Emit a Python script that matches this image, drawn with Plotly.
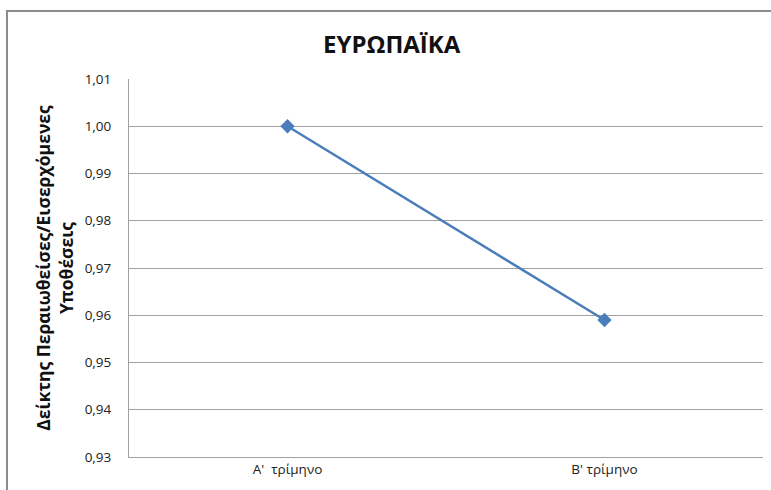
import plotly.graph_objects as go

categories = ["Α'  τρίμηνο", "Β' τρίμηνο"]
values = [1.00, 0.959]
y_ticks = [0.93, 0.94, 0.95, 0.96, 0.97, 0.98, 0.99, 1.00, 1.01]
title_text = "ΕΥΡΩΠΑΪΚΑ"
y_title = "Δείκτης Περαιωθείσες/Εισερχόμενες<br>Υποθέσεις"

font_family = "Open Sans, Liberation Sans, DejaVu Sans, sans-serif"
blue = "#4A7EBB"

fig = go.Figure()
fig.add_trace(go.Scatter(
    x=categories, y=values, mode="lines+markers",
    line=dict(color=blue, width=2.5),
    marker=dict(symbol="diamond", size=11, color=blue),
    showlegend=False,
))

L, R, T, B = 129, 8, 79, 33
W, H = 771, 490
pw, ph = W - L - R, H - T - B

fig.update_layout(
    width=W, height=H,
    margin=dict(l=L, r=R, t=T, b=B, autoexpand=False),
    paper_bgcolor="white", plot_bgcolor="white",
    separators=",.",
    font=dict(family=font_family, size=13, color="#222"),
    title=dict(text="<b>" + title_text + "</b>", x=0.508, xanchor="center",
               y=1 - 45 / H, yanchor="middle",
               font=dict(size=24, color="#111", family=font_family)),
    xaxis=dict(
        type="category", range=[-0.5, 1.5],
        showgrid=False, zeroline=False,
        showline=True, linecolor="#A0A0A0", linewidth=1,
        ticks="", tickfont=dict(size=13.5, color="#222"),
        fixedrange=True,
    ),
    yaxis=dict(
        range=[0.93, 1.01], tickvals=y_ticks, tickformat=".2f",
        showgrid=True, gridcolor="#A0A0A0", gridwidth=1,
        zeroline=False,
        showline=True, linecolor="#A0A0A0", linewidth=1,
        ticks="", ticklabelstandoff=14,
        tickfont=dict(size=13.5, color="#222"),
        title=dict(text="<b>" + y_title + "</b>", standoff=6,
                   font=dict(size=17.5, color="#111", family=font_family)),
        fixedrange=True,
    ),
)

# outer chart frame
fig.add_shape(type="rect", xref="paper", yref="paper",
              x0=(7 - L) / pw, x1=1.2, y0=-0.3, y1=1 + (T - 11) / ph,
              line=dict(color="#8C8C8C", width=2), layer="below")

fig.write_html("out.html", config={"displayModeBar": False},
               post_script="document.body.style.margin='0';document.body.style.overflow='hidden';")
